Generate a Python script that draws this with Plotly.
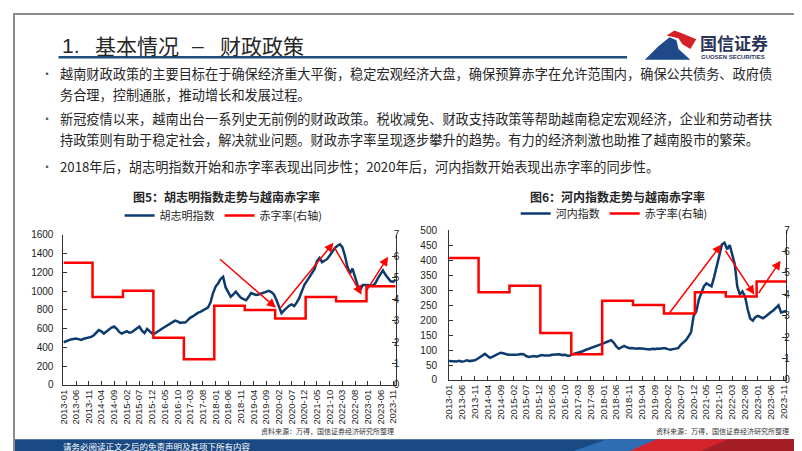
import pandas as pd
import plotly.graph_objects as go

# monthly axis 2013-01 .. 2023-12
months = pd.date_range("2013-01-01", "2023-12-01", freq="MS")
tick_months = months[::5]
tick_labels = [d.strftime("%Y-%m") for d in tick_months]

# 胡志明指数 (monthly)
hcm_index = [
    455, 468, 478, 485, 490, 495, 488, 480, 492, 500, 505, 512,
    530, 560, 585, 572, 548, 570, 592, 612, 623, 600, 565, 548,
    560, 572, 556, 562, 582, 602, 623, 578, 553, 598, 570, 548,
    547, 562, 582, 602, 620, 634, 650, 668, 686, 678, 662, 665,
    665, 690, 715, 730, 750, 768, 779, 795, 810, 824, 880, 980,
    1049, 1084, 1130, 1153, 1040, 990, 940, 965, 995, 960, 930, 915,
    904, 940, 980, 970, 960, 965, 975, 980, 990, 1004, 990, 965,
    905, 835, 766, 795, 824, 845, 859, 841, 880, 928, 1000, 1067,
    1110, 1150, 1200, 1235, 1320, 1355, 1309, 1325, 1344, 1380, 1420, 1460,
    1485, 1499, 1470, 1380, 1260, 1190, 1240, 1150, 1060, 1010, 1065, 1065,
    1067, 1062, 1057, 1085, 1136, 1180, 1222, 1175, 1136, 1105, 1101, 1120,
]

# 河内指数 (monthly)
hnx_index = [
    63, 62, 61, 62, 64, 61, 63, 66, 63, 64, 66, 70,
    76, 82, 87, 80, 74, 78, 82, 88, 91, 89, 86, 84,
    84, 83, 84, 85, 87, 86, 80, 77, 79, 80, 78, 81,
    83, 82, 81, 82, 84, 85, 84, 86, 83, 84, 81, 82,
    86, 88, 90, 93, 96, 100, 103, 106, 108, 111, 114, 118,
    122, 126, 130, 133, 125, 112, 104, 108, 114, 110, 106, 107,
    106, 104, 106, 105, 103, 104, 102, 104, 103, 105, 104, 106,
    106, 103, 101, 103, 104, 106, 117, 124, 133, 145, 160, 214,
    228, 268, 290, 312, 322, 318, 312, 344, 382, 420, 452, 458,
    436, 450, 420, 387, 312, 285, 295, 279, 236, 205, 198, 210,
    214, 210, 206, 212, 220, 226, 232, 240, 249, 225, 228, 230,
]

# 赤字率 (annual, %)
deficit_years = list(range(2013, 2024))
deficit_rate = [5.7, 4.1, 4.4, 2.2, 1.2, 3.7, 3.5, 3.1, 4.1, 3.9, 4.6]

# step line: value changes at the turn of each year
step_x = [pd.Timestamp(f"{deficit_years[0]}-01-01")]
step_x += [pd.Timestamp(f"{y - 1}-12-16") for y in deficit_years[1:]]
step_x += [months[-1]]
step_y = deficit_rate + [deficit_rate[-1]]

# trend arrows (tail date, tail value, head date, head value)
hcm_arrows = [
    ("2018-02-04", 1354, "2019-12-25", 824),
    ("2020-02-04", 807, "2021-11-15", 1517),
    ("2021-11-15", 1483, "2022-10-19", 963),
    ("2022-11-28", 980, "2023-09-01", 1368),
]
hnx_arrows = [
    ("2020-02-10", 220, "2021-10-25", 452),
    ("2021-12-01", 436, "2022-11-19", 285),
    ("2022-12-28", 285, "2023-09-25", 398),
]

W, H = 802, 451
BLUE = "#0d3b6e"
RED = "#ff0000"
CJK = "Noto Sans CJK SC"
TXT = "#262626"


def px(x):
    return x / W


def py(y):
    return 1 - y / H


fig = go.Figure()
fig.add_trace(go.Scatter(x=months, y=hcm_index, name="胡志明指数", mode="lines",
                         line=dict(color=BLUE, width=2.5), xaxis="x", yaxis="y", legend="legend"))
fig.add_trace(go.Scatter(x=step_x, y=step_y, name="赤字率(右轴)", mode="lines",
                         line=dict(color=RED, width=2.5, shape="hv"), xaxis="x", yaxis="y2", legend="legend"))
fig.add_trace(go.Scatter(x=months, y=hnx_index, name="河内指数", mode="lines",
                         line=dict(color=BLUE, width=2.5), xaxis="x2", yaxis="y3", legend="legend2"))
fig.add_trace(go.Scatter(x=step_x, y=step_y, name="赤字率(右轴)", mode="lines",
                         line=dict(color=RED, width=2.5, shape="hv"), xaxis="x2", yaxis="y4", legend="legend2"))

tickfont = dict(family="Liberation Sans, Arial", size=10, color="#222")
axis_common = dict(showline=True, linecolor="#333", linewidth=1, ticks="inside",
                   ticklen=4, tickcolor="#333", showgrid=False, zeroline=False, tickfont=tickfont)
x_common = dict(axis_common, type="date", range=[months[0], months[-1]], tickvals=list(tick_months),
                ticktext=tick_labels, tickangle=-90, tickfont=dict(tickfont, size=9.5))

legend_common = dict(orientation="h", xanchor="center", yanchor="middle", itemwidth=30,
                     font=dict(family=CJK, size=11, color=TXT), bgcolor="rgba(0,0,0,0)",
                     tracegroupgap=0)

fig.update_layout(
    width=W, height=H, margin=dict(l=0, r=0, t=0, b=0),
    paper_bgcolor="white", plot_bgcolor="white",
    font=dict(family=CJK, color=TXT),
    xaxis=dict(x_common, domain=[px(50), px(386)], anchor="y"),
    yaxis=dict(axis_common, domain=[py(381), py(227)], range=[0, 1600], dtick=200, anchor="x",
               ticklabelstandoff=7),
    yaxis2=dict(axis_common, overlaying="y", side="right", range=[0, 7], dtick=1, anchor="x",
                ticklabelstandoff=-5),
    xaxis2=dict(x_common, domain=[px(440), px(781)], anchor="y3"),
    yaxis3=dict(axis_common, domain=[py(376), py(222)], range=[0, 500], dtick=50, anchor="x2",
                ticklabelstandoff=9),
    yaxis4=dict(axis_common, overlaying="y3", side="right", range=[0, 7], dtick=1, anchor="x2",
                ticklabelstandoff=-5),
    legend=dict(legend_common, x=px(212), y=py(207)),
    legend2=dict(legend_common, x=px(607), y=py(205)),
)

ann = []
# trend arrows
for tx, tv, hx, hv in hcm_arrows:
    ann.append(dict(x=hx, y=hv, ax=tx, ay=tv, xref="x", yref="y", axref="x", ayref="y",
                    showarrow=True, arrowhead=2, arrowsize=1.2, arrowwidth=1.5, arrowcolor=RED, text=""))
for tx, tv, hx, hv in hnx_arrows:
    ann.append(dict(x=hx, y=hv, ax=tx, ay=tv, xref="x2", yref="y3", axref="x2", ayref="y3",
                    showarrow=True, arrowhead=2, arrowsize=1.2, arrowwidth=1.5, arrowcolor=RED, text=""))


def note(x, y, text, size, color=TXT, anchor="left", family=CJK):
    ann.append(dict(x=px(x), y=py(y), xref="paper", yref="paper", text=text, showarrow=False,
                    xanchor=anchor, yanchor="middle", font=dict(family=family, size=size, color=color)))


# slide title
note(47, 32, "1.", 21, family="Liberation Sans, Arial")
note(80, 32, "基本情况", 21)
note(178, 32, "–", 21, family="Liberation Sans, Arial")
note(206, 32, "财政政策", 21)

# logo text
note(692, 29, "<b>国信证券</b>", 17, color="#2a3558")
note(693, 44, "<b>GUOSEN SECURITIES</b>", 6, color="#2a3558", family="Liberation Sans, Arial")

# bullets
bullets = [
    (61, "越南财政政策的主要目标在于确保经济重大平衡，稳定宏观经济大盘，确保预算赤字在允许范围内，确保公共债务、政府债", True),
    (83, "务合理，控制通胀，推动增长和发展过程。", False),
    (107, "新冠疫情以来，越南出台一系列史无前例的财政政策。税收减免、财政支持政策等帮助越南稳定宏观经济，企业和劳动者扶", True),
    (129, "持政策则有助于稳定社会，解决就业问题。财政赤字率呈现逐步攀升的趋势。有力的经济刺激也助推了越南股市的繁荣。", False),
    (157, "2018年后，胡志明指数开始和赤字率表现出同步性；2020年后，河内指数开始表现出赤字率的同步性。", True),
]
for y, text, dot in bullets:
    if dot:
        note(25, y, "•", 12, color="#555")
    note(45, y, text, 13.2)

# chart titles
note(215, 188, "<b>图5：胡志明指数走势与越南赤字率</b>", 12, anchor="center")
note(610, 187, "<b>图6：河内指数走势与越南赤字率</b>", 12, anchor="center")

# sources
note(386, 428, "资料来源：万得，国信证券经济研究所整理", 7, color="#333", anchor="right")
note(786, 428, "资料来源：万得，国信证券经济研究所整理", 7, color="#333", anchor="right")

# footer text
note(48, 444, "请务必阅读正文之后的免责声明及其项下所有内容", 8.5, color="white")

fig.update_layout(annotations=ann)


def path(points):
    return "M " + " L ".join(f"{px(x)},{py(y)}" for x, y in points) + " Z"


def poly(points, color):
    return dict(type="path", path=path(points), xref="paper", yref="paper",
                fillcolor=color, line_width=0, layer="below")


shapes = [
    # footer band
    poly([(0, 437), (802, 437), (802, 451), (0, 451)], "#1a4a84"),
    poly([(560, 451), (600, 437), (660, 437), (620, 451)], "#2f6db3"),
    poly([(618, 451), (650, 437), (802, 437), (802, 451)], "#d6232b"),
    poly([(690, 451), (722, 437), (802, 437), (802, 451)], "#a51e25"),
    # logo
    poly([(638, 47), (652, 33), (663, 24), (670, 27), (672, 36), (684, 47)], "#1f4a8a"),
    poly([(660, 22), (668, 17), (676, 20), (690, 26), (684, 36), (676, 31), (672, 25)], "#d42027"),
    # title underline
    dict(type="line", xref="paper", yref="paper", x0=px(45), x1=px(620), y0=py(44.5), y1=py(44.5),
         line=dict(color="#1f4e7c", width=2.5)),
    # slide border
    dict(type="rect", x0=0, x1=1, y0=0, y1=1, xref="paper", yref="paper",
         line=dict(color="#8c8c8c", width=2)),
]
fig.update_layout(shapes=shapes)

fig.write_html("out.html")
